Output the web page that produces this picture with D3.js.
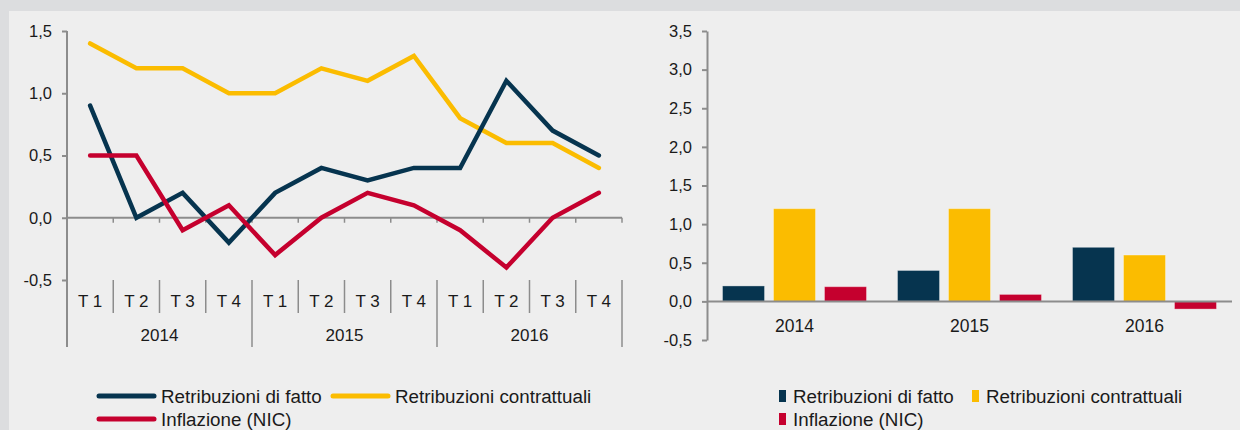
<!DOCTYPE html>
<html>
<head>
<meta charset="utf-8">
<script src="https://cdn.jsdelivr.net/npm/d3@7"></script>
<style>
  html, body { margin: 0; padding: 0; background: #dcdddf; }
  svg { display: block; font-family: 'Liberation Sans', Arial, sans-serif; }
</style>
</head>
<body>
<div id="chart"></div>
<script>
// data
const years = ['2014', '2015', '2016'];
const quarters = ['T 1', 'T 2', 'T 3', 'T 4'];
const seriesNames = ['Retribuzioni di fatto', 'Retribuzioni contrattuali', 'Inflazione (NIC)'];
const seriesColors = ['#06344f', '#fbbc00', '#c5002e'];

// quarterly values (left chart)
const fattoQ = [0.9, 0.0, 0.2, -0.2, 0.2, 0.4, 0.3, 0.4, 0.4, 1.1, 0.7, 0.5];
const contrattualiQ = [1.4, 1.2, 1.2, 1.0, 1.0, 1.2, 1.1, 1.3, 0.8, 0.6, 0.6, 0.4];
const inflazioneQ = [0.5, 0.5, -0.1, 0.1, -0.3, 0.0, 0.2, 0.1, -0.1, -0.4, 0.0, 0.2];

// annual values (right chart)
const fattoY = [0.2, 0.4, 0.7];
const contrattualiY = [1.2, 1.2, 0.6];
const inflazioneY = [0.19, 0.09, -0.1];

const leftTicks = [-0.5, 0, 0.5, 1.0, 1.5];
const rightTicks = [-0.5, 0, 0.5, 1.0, 1.5, 2.0, 2.5, 3.0, 3.5];

const it = d3.formatLocale({ decimal: ',', thousands: '.', grouping: [3], currency: ['€', ''], minus: '-' });
const fmt = it.format('.1f');

const W = 1240, H = 430;
const axisColor = '#8c8c8c';
const textColor = '#1a1a1a';

const svg = d3.select('#chart').append('svg').attr('width', W).attr('height', H);

// panel background
svg.append('rect').attr('x', 9).attr('y', 11).attr('width', W - 9).attr('height', H - 11).attr('fill', '#eeeeee');

// ---------- left: quarterly lines ----------
const keys = [];
years.forEach((y) => quarters.forEach((q) => keys.push(y + q)));

const xL = d3.scaleBand().domain(keys).range([67, 622]);
const yL = d3.scaleLinear().domain([-0.5, 1.5]).range([280, 31]);

const left = svg.append('g');

const yAxisL = left.append('g')
  .attr('transform', 'translate(67,0)')
  .call(d3.axisLeft(yL).tickValues(leftTicks).tickFormat(fmt).tickSize(5).tickSizeOuter(0).tickPadding(10));
yAxisL.select('.domain').remove();
yAxisL.selectAll('line').attr('stroke', axisColor).attr('stroke-width', 2);
yAxisL.selectAll('text').attr('fill', textColor).style('font-size', '16.5px');

// y axis line continues down through category rows
left.append('line')
  .attr('x1', 67).attr('x2', 67).attr('y1', yL(1.5)).attr('y2', 347)
  .attr('stroke', axisColor).attr('stroke-width', 2);

// zero line with small ticks at band boundaries
left.append('line')
  .attr('x1', 67).attr('x2', 622).attr('y1', yL(0)).attr('y2', yL(0))
  .attr('stroke', axisColor).attr('stroke-width', 2);
const bounds = d3.range(1, keys.length + 1).map((i) => xL(keys[0]) + i * xL.step());
left.selectAll('.zt').data(bounds).enter().append('line')
  .attr('x1', (d) => d).attr('x2', (d) => d)
  .attr('y1', yL(0)).attr('y2', yL(0) + 5)
  .attr('stroke', axisColor).attr('stroke-width', 1.5);

// category separators
left.selectAll('.sep').data(bounds).enter().append('line')
  .attr('x1', (d) => d).attr('x2', (d) => d)
  .attr('y1', 280).attr('y2', (d, i) => ((i + 1) % 4 === 0 ? 347 : 313))
  .attr('stroke', axisColor).attr('stroke-width', 1.5);

left.selectAll('.ql').data(keys).enter().append('text')
  .attr('x', (d) => xL(d) + xL.bandwidth() / 2)
  .attr('y', 307)
  .attr('text-anchor', 'middle')
  .attr('fill', textColor)
  .style('font-size', '17px')
  .text((d) => d.slice(4));

left.selectAll('.yl').data(years).enter().append('text')
  .attr('x', (d) => xL(d + quarters[0]) + 2 * xL.step())
  .attr('y', 341)
  .attr('text-anchor', 'middle')
  .attr('fill', textColor)
  .style('font-size', '17px')
  .text((d) => d);

const line = d3.line()
  .x((d, i) => xL(keys[i]) + xL.bandwidth() / 2)
  .y((d) => yL(d));

const lineSeries = [
  { values: contrattualiQ, color: seriesColors[1] },
  { values: fattoQ, color: seriesColors[0] },
  { values: inflazioneQ, color: seriesColors[2] },
];
left.selectAll('.ln').data(lineSeries).enter().append('path')
  .attr('d', (d) => line(d.values))
  .attr('fill', 'none')
  .attr('stroke', (d) => d.color)
  .attr('stroke-width', 4.5)
  .attr('stroke-linecap', 'round')
  .attr('stroke-linejoin', 'miter');

// ---------- right: annual bars ----------
const xR = d3.scaleBand().domain(years).range([707, 1232]);
const xInner = d3.scaleBand().domain(seriesNames).range([15.5, 159.5]).paddingInner(0.176);
const yR = d3.scaleLinear().domain([-0.5, 3.5]).range([340, 31]);

const right = svg.append('g');

const yAxisR = right.append('g')
  .attr('transform', 'translate(707,0)')
  .call(d3.axisLeft(yR).tickValues(rightTicks).tickFormat(fmt).tickSize(5).tickSizeOuter(0).tickPadding(10));
yAxisR.select('.domain').attr('stroke', axisColor).attr('stroke-width', 2);
yAxisR.selectAll('line').attr('stroke', axisColor).attr('stroke-width', 2);
yAxisR.selectAll('text').attr('fill', textColor).style('font-size', '16.5px');

const annual = [fattoY, contrattualiY, inflazioneY];
const barData = [];
years.forEach((y, yi) => {
  seriesNames.forEach((s, si) => {
    barData.push({ year: y, series: s, value: annual[si][yi], color: seriesColors[si] });
  });
});

right.selectAll('rect').data(barData).enter().append('rect')
  .attr('x', (d) => xR(d.year) + xInner(d.series))
  .attr('width', xInner.bandwidth())
  .attr('y', (d) => yR(Math.max(0, d.value)))
  .attr('height', (d) => Math.abs(yR(d.value) - yR(0)))
  .attr('fill', (d) => d.color)
  .attr('stroke', '#ffffff')
  .attr('stroke-opacity', 0.35)
  .attr('stroke-width', 1);

right.append('line')
  .attr('x1', 707).attr('x2', 1232).attr('y1', yR(0)).attr('y2', yR(0))
  .attr('stroke', axisColor).attr('stroke-width', 2);

right.selectAll('.yr').data(years).enter().append('text')
  .attr('x', (d) => xR(d) + xR.bandwidth() / 2)
  .attr('y', 332)
  .attr('text-anchor', 'middle')
  .attr('fill', textColor)
  .style('font-size', '17.5px')
  .text((d) => d);

// ---------- legends ----------
const legendPos = [
  { x: 99, y: 396 },
  { x: 333, y: 396 },
  { x: 99, y: 419 },
];
const legL = svg.append('g');
seriesNames.forEach((name, i) => {
  const p = legendPos[i];
  legL.append('line')
    .attr('x1', p.x).attr('x2', p.x + 55).attr('y1', p.y).attr('y2', p.y)
    .attr('stroke', seriesColors[i]).attr('stroke-width', 5).attr('stroke-linecap', 'round');
  legL.append('text')
    .attr('x', p.x + 62).attr('y', p.y + 6.5)
    .attr('fill', textColor).style('font-size', '18.8px')
    .text(name);
});

const legendPosR = [
  { x: 779, y: 396 },
  { x: 972, y: 396 },
  { x: 779, y: 419 },
];
const legR = svg.append('g');
seriesNames.forEach((name, i) => {
  const p = legendPosR[i];
  legR.append('rect')
    .attr('x', p.x).attr('y', p.y - 6).attr('width', 7).attr('height', 12)
    .attr('fill', seriesColors[i]);
  legR.append('text')
    .attr('x', p.x + 14).attr('y', p.y + 6.5)
    .attr('fill', textColor).style('font-size', '18.8px')
    .text(name);
});
</script>
</body>
</html>
